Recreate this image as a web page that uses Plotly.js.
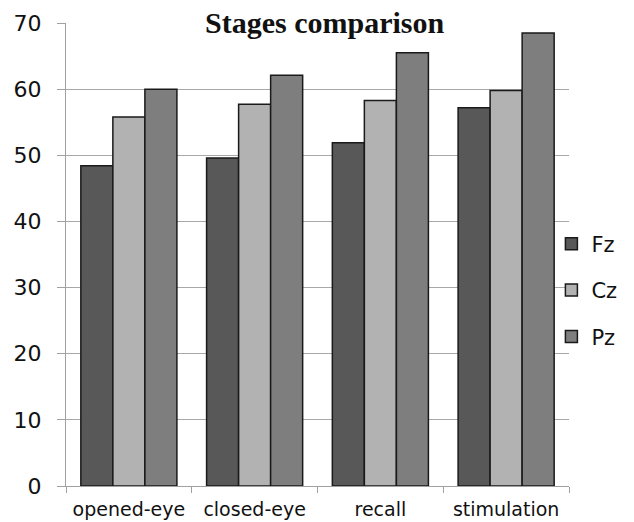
<!DOCTYPE html>
<html>
<head>
<meta charset="utf-8">
<script src="https://cdn.plot.ly/plotly-3.0.1.min.js"></script>
<style>
html,body{margin:0;padding:0;background:#fff;}
#chart{width:634px;height:522px;}
</style>
</head>
<body>
<div id="chart"></div>
<script>
const categories = ["opened-eye", "closed-eye", "recall", "stimulation"];
const fz = [48.4, 49.6, 51.9, 57.2];
const cz = [55.8, 57.7, 58.3, 59.8];
const pz = [60.0, 62.1, 65.5, 68.5];
const seriesNames = ["Fz", "Cz", "Pz"];
const seriesColors = ["#585858", "#b2b2b2", "#7e7e7e"];
const yTicks = [0, 10, 20, 30, 40, 50, 60, 70];
const titleText = "Stages comparison";

const values = [fz, cz, pz];
const traces = values.map((v, i) => ({
  type: "bar",
  name: seriesNames[i],
  x: categories,
  y: v,
  legendgroup: "g" + i,
  marker: {color: seriesColors[i], line: {color: "#1a1a1a", width: 1.5}},
  hoverinfo: "skip"
}));

const layout = {
  width: 634,
  height: 522,
  margin: {l: 66, r: 60, t: 23, b: 36, pad: 0},
  paper_bgcolor: "#ffffff",
  plot_bgcolor: "#ffffff",
  barmode: "group",
  bargap: 0.236,
  bargroupgap: 0,
  showlegend: true,
  font: {family: "DejaVu Sans", color: "#111111"},
  xaxis: {
    type: "category",
    tickson: "boundaries",
    ticks: "outside",
    ticklen: 6,
    tickcolor: "#a0a0a0",
    tickwidth: 1,
    ticklabelstandoff: 6,
    showline: true,
    linecolor: "#a0a0a0",
    linewidth: 1,
    showgrid: false,
    zeroline: false,
    tickfont: {family: "DejaVu Sans", size: 19, color: "#111111"},
    fixedrange: true
  },
  yaxis: {
    range: [0, 70],
    tickvals: yTicks,
    ticktext: yTicks.map(String),
    ticks: "outside",
    ticklen: 8,
    tickcolor: "#a0a0a0",
    tickwidth: 1,
    ticklabelstandoff: 11,
    showline: true,
    linecolor: "#a0a0a0",
    linewidth: 1,
    showgrid: true,
    gridcolor: "#a8a8a8",
    gridwidth: 1,
    zeroline: false,
    tickfont: {family: "DejaVu Sans", size: 22, color: "#111111"},
    fixedrange: true
  },
  legend: {
    x: 0.965,
    xanchor: "left",
    y: 0.423,
    yanchor: "middle",
    bgcolor: "rgba(0,0,0,0)",
    borderwidth: 0,
    tracegroupgap: 16,
    font: {family: "DejaVu Sans", size: 21, color: "#111111"}
  },
  annotations: [{
    text: titleText,
    xref: "paper",
    yref: "paper",
    x: 0.514,
    y: 1.002,
    xanchor: "center",
    yanchor: "middle",
    showarrow: false,
    bgcolor: "#ffffff",
    borderpad: 3,
    font: {family: "Liberation Serif", size: 30, weight: "bold", color: "#111111"}
  }]
};

Plotly.newPlot("chart", traces, layout, {displayModeBar: false, staticPlot: true});
</script>
</body>
</html>
